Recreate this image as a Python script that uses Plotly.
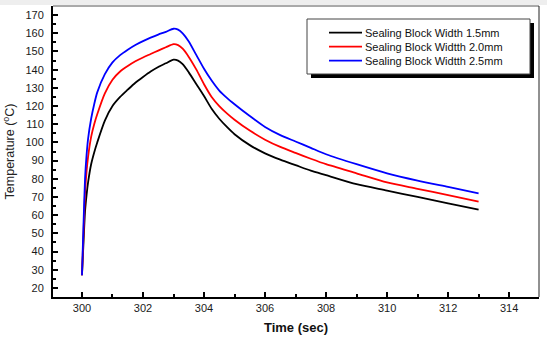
import plotly.graph_objects as go

# Time axis samples (sec)
time_s = [300, 300.05, 300.1, 300.15, 300.2, 300.3, 300.4, 300.5, 300.75, 301, 301.25, 301.5,
          301.75, 302, 302.25, 302.5, 302.75, 303, 303.15, 303.3, 303.5, 303.75, 304, 304.25,
          304.5, 304.75, 305, 305.5, 306, 306.5, 307, 307.5, 308, 309, 310, 311, 312, 313]

# Temperature (°C) for each sealing block width
temp_15 = [27, 45, 62, 71, 78, 88, 94.5, 100, 112, 120, 125, 129,
           132.8, 136, 139, 141.5, 143.5, 145.5, 145, 143, 138.5, 132, 125.5, 118.5,
           113, 108.5, 104.5, 98.5, 94, 90.5, 87.5, 84.5, 82, 77, 73.5, 70, 66.5, 63]
temp_20 = [27, 50, 72, 84, 92, 103, 110, 115.5, 127, 134.5, 139, 142,
           144.6, 146.7, 148.6, 150.5, 152.3, 154, 153.5, 151.5, 147, 140, 132, 125,
           120, 116, 112.5, 106.5, 101.5, 97.5, 94.2, 91, 88, 83, 78, 74.5, 71, 67.4]
temp_25 = [27, 55, 80, 93, 102, 113, 121, 127.5, 137.5, 144, 148, 151,
           153.6, 155.7, 157.6, 159.3, 160.8, 162.5, 162, 160, 155.5, 148, 140.5, 134,
           128.5, 124.5, 121, 114.5, 108.5, 104, 100.5, 97, 93.5, 88, 83, 79, 75.5, 72]

series_names = ["Sealing Block Width 1.5mm", "Sealing Block Widtth 2.0mm", "Sealing Block Widtth 2.5mm"]
series_colors = ["#000000", "#ff0000", "#0000ff"]
series_values = [temp_15, temp_20, temp_25]

W, H = 547, 343
ML, MR, MT, MB = 53, 8, 6, 46
PW, PH = W - ML - MR, H - MT - MB


def px_x(px):
    return (px - ML) / PW


def px_y(py):
    return (H - MB - py) / PH


fig = go.Figure()
for name, color, vals in zip(series_names, series_colors, series_values):
    fig.add_trace(go.Scatter(x=time_s, y=vals, mode="lines", name=name,
                             line=dict(color=color, width=1.8, shape="spline", smoothing=0.7),
                             showlegend=False))

font_main = "Liberation Sans, Arial, sans-serif"
tick_font = dict(family=font_main, size=11, color="#1a1a1a")

fig.update_xaxes(
    range=[299.05, 314.98], tick0=300, dtick=2, color="#000000",
    showline=True, linecolor="#000000", linewidth=2,
    ticks="inside", ticklen=5, tickwidth=1.5, tickcolor="#000000",
    showgrid=False, zeroline=False, tickfont=tick_font,
    minor=dict(ticks="inside", ticklen=3, tickwidth=1.5, tickcolor="#000000", dtick=1, tick0=300, showgrid=False),
    title=dict(text="<b>Time (sec)</b>", font=dict(family=font_main, size=13, color="#111111"), standoff=10),
)
fig.update_yaxes(
    range=[15, 175], tick0=20, dtick=10, color="#000000",
    showline=True, linecolor="#000000", linewidth=2,
    ticks="inside", ticklen=5, tickwidth=1.5, tickcolor="#000000",
    showgrid=False, zeroline=False, tickfont=tick_font,
    minor=dict(ticks="inside", ticklen=3, tickwidth=1.5, tickcolor="#000000", dtick=5, tick0=20, showgrid=False),
    ticklabelstandoff=5,
    title=dict(text="Temperature (<sup>o</sup>C)", font=dict(family=font_main, size=12.5, color="#222222"), standoff=8),
)

shapes = [
    # light strip along the top edge of the page
    dict(type="rect", xref="paper", yref="paper", x0=px_x(0), x1=px_x(W), y0=px_y(5), y1=px_y(0),
         fillcolor="#eeeeee", line=dict(width=0), layer="below"),
    # thin frame on the top and right sides
    dict(type="line", xref="paper", yref="paper", x0=0, x1=1, y0=1, y1=1,
         line=dict(color="#555555", width=1)),
    dict(type="line", xref="paper", yref="paper", x0=1, x1=1, y0=0, y1=1,
         line=dict(color="#222222", width=1)),
    # legend box with drop shadow
    dict(type="rect", xref="paper", yref="paper", x0=px_x(311), x1=px_x(534), y0=px_y(78), y1=px_y(23),
         fillcolor="#000000", line=dict(width=0)),
    dict(type="rect", xref="paper", yref="paper", x0=px_x(307), x1=px_x(530), y0=px_y(74), y1=px_y(19),
         fillcolor="#ffffff", line=dict(color="#444444", width=1)),
]

annotations = []
row_y = [32.7, 46.7, 60.7]
for name, color, ry in zip(series_names, series_colors, row_y):
    shapes.append(dict(type="line", xref="paper", yref="paper", x0=px_x(329), x1=px_x(362),
                       y0=px_y(ry), y1=px_y(ry), line=dict(color=color, width=1.8)))
    annotations.append(dict(xref="paper", yref="paper", x=px_x(363), y=px_y(ry), text=name,
                            showarrow=False, xanchor="left", yanchor="middle",
                            font=dict(family=font_main, size=11, color="#111111")))

fig.update_layout(
    template="none",
    width=W, height=H,
    margin=dict(l=ML, r=MR, t=MT, b=MB),
    paper_bgcolor="#ffffff", plot_bgcolor="#ffffff",
    shapes=shapes, annotations=annotations,
    showlegend=False,
)

fig.write_html("out.html")
